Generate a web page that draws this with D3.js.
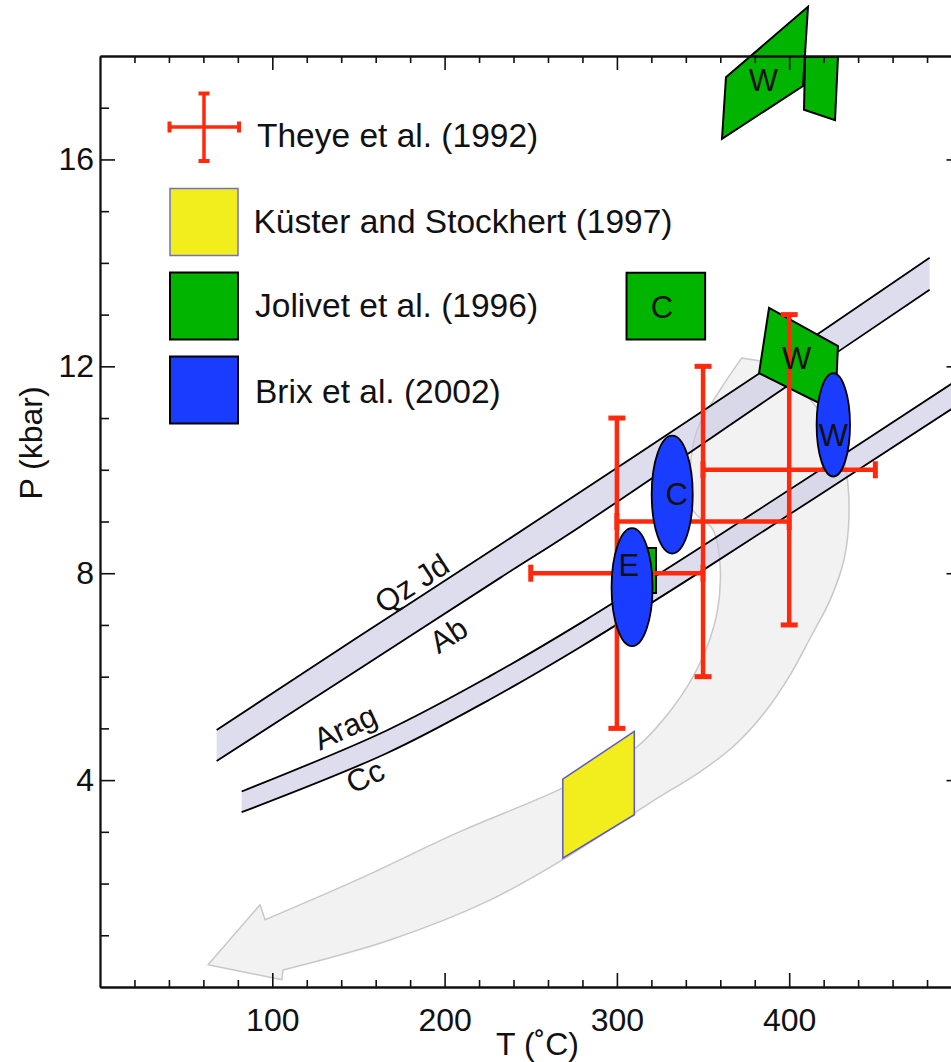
<!DOCTYPE html>
<html><head><meta charset="utf-8">
<script src="https://cdn.jsdelivr.net/npm/d3@7"></script>
<style>
body{margin:0;background:#fff}
svg{display:block}
text{font-family:"Liberation Sans",Arial,Helvetica,sans-serif;fill:#111}
</style>
</head><body>
<svg id="c" width="951" height="1062"></svg>
<script>
// ---------------- data ----------------
const tickT = [100, 200, 300, 400];
const tickP = [4, 8, 12, 16];

// Theye et al. (1992) error crosses
const theyeT = [300, 350, 400];
const theyeP = [8, 9, 10];
const theyeErrT = [50, 50, 50];
const theyeErrP = [3, 3, 3];

// Brix et al. (2002) ellipses
const brixName = ["E", "C", "W"];
const brixT = [308.8, 332.1, 425.6];
const brixP = [7.73, 9.52, 10.87];
const brixRadT = [11.9, 11.9, 9.7];
const brixRadP = [1.14, 1.14, 1.0];
const brixLabelT = [307, 334.7, 425.6];
const brixLabelP = [8.16, 9.54, 10.67];

// Jolivet et al. (1996) fields
const jolivetC = [[305.6, 13.81], [351.2, 13.81], [351.2, 12.52], [305.6, 12.52]];
const jolivetW = [[388.3, 13.13], [428.3, 12.39], [426.6, 11.14], [382.5, 11.87]];
const jolivetE = [[313.4, 8.49], [322.7, 8.49], [322.7, 7.62], [313.4, 7.62]];
const jolivetWTop = [[410.9, 18.95], [408, 17.42], [361, 16.40], [363.3, 17.59]];
const jolivetWTop2 = [[409.2, 17.98], [428.3, 17.98], [426.6, 16.76], [408.6, 16.96]];
const jolivetLabels = [["C", 326.2, 13.15], ["W", 404.3, 12.16], ["W", 385, 17.54]];

// Kuster and Stockhert (1997) field
const kuster = [[268.6, 4.02], [310.1, 4.94], [310.1, 3.33], [268.6, 2.49]];

// reaction curves
const qzjdT = [67.7, 150, 232.2, 383, 481.5];
const qzjdP = [4.97, 6.77, 8.55, 11.87, 14.10];
const abT = [67.7, 150, 232.2, 278.6, 398.5, 481.5];
const abP = [4.37, 6.14, 7.91, 8.90, 11.61, 13.48];
const aragT = [82.2, 166.4, 226.3, 278.6, 350, 500];
const aragP = [3.78, 4.96, 6.01, 7.03, 8.53, 11.79];
const ccT = [82.2, 166.4, 226.3, 278.6, 350, 500];
const ccP = [3.38, 4.52, 5.56, 6.57, 8.06, 11.30];
const curveLabels = [["Qz Jd", 180.9, 7.81, -33], ["Ab", 202.1, 6.81, -33], ["Arag", 142.2, 5.03, -25], ["Cc", 153.8, 4.08, -26]];

// P-T path arrow outline: outer edge, head, inner edge
const arrowOuterT = [387.7, 412.1, 428.3, 433.0, 434.7, 431.8, 423.7, 413.2, 400.5, 386.0, 368.5, 348.2, 319.2, 271.0, 226.3, 168.3, 106.2];
const arrowOuterP = [12.08, 11.36, 10.58, 10.0, 9.09, 8.26, 7.48, 6.81, 6.03, 5.32, 4.68, 4.16, 3.56, 2.51, 1.68, 0.91, 0.33];
const arrowHeadT = [105.6, 62.7, 92.9];
const arrowHeadP = [0.14, 0.43, 1.59];
const arrowInnerT = [95.8, 149.2, 207.2, 268.7, 309.3, 332.6, 348.2, 358.1, 359.8, 355.8, 344.2, 342.5, 346.6, 359.8, 372.4];
const arrowInnerP = [1.30, 2.07, 2.98, 3.85, 4.58, 5.41, 6.26, 7.23, 8.20, 8.84, 9.22, 10.0, 10.77, 11.54, 12.16];

// legend
const legendNames = ["Theye et al. (1992)", "Küster and Stockhert (1997)", "Jolivet et al. (1996)", "Brix et al. (2002)"];

// ---------------- styles ----------------
const RED = "#ff2a0d", GREEN = "#00b400", BLUE = "#1a3cff", YELLOW = "#f2ee1e";
const BANDFILL = "rgb(198,198,227)";

// ---------------- scales ----------------
const svg = d3.select("#c");
const x = d3.scaleLinear().domain([0, 500]).range([100, 961.5]);
const y = d3.scaleLinear().domain([0, 18]).range([987, 56]);
const toPx = pts => pts.map(d => [x(d[0]), y(d[1])]);
const zip = (a, b) => a.map((v, i) => [v, b[i]]);
const lin = d3.line();
const curv = d3.line().curve(d3.curveCatmullRom);

// arrow
{
  const outer = curv(toPx(zip(arrowOuterT, arrowOuterP)));
  const head = toPx(zip(arrowHeadT, arrowHeadP)).map(p => "L" + p[0] + "," + p[1]).join("");
  const inner = curv(toPx(zip(arrowInnerT, arrowInnerP))).replace("M", "L");
  svg.append("path")
    .attr("d", outer + head + inner + "Z")
    .attr("fill", "#f2f2f2").attr("stroke", "#c8c8c8").attr("stroke-width", 1.5)
    .attr("stroke-linejoin", "round");
}

// bands
function band(tT, tP, bT, bP) {
  const top = toPx(zip(tT, tP));
  const bot = toPx(zip(bT, bP)).reverse();
  const d = curv(top) + curv(bot).replace("M", "L") + "Z";
  svg.append("path").attr("d", d).attr("fill", BANDFILL).attr("fill-opacity", 0.6).attr("stroke", "none");
  svg.append("path").attr("d", curv(top)).attr("fill", "none").attr("stroke", "#000").attr("stroke-width", 1.8);
  svg.append("path").attr("d", curv(bot)).attr("fill", "none").attr("stroke", "#000").attr("stroke-width", 1.8);
}
band(qzjdT, qzjdP, abT, abP);
band(aragT, aragP, ccT, ccP);

curveLabels.forEach(([t, T, P, r]) => {
  svg.append("text").attr("transform", `translate(${x(T)},${y(P)}) rotate(${r})`)
    .attr("text-anchor", "middle").attr("dy", "0.36em").attr("font-size", 31).text(t);
});

// Kuster field
svg.append("path").attr("d", lin(toPx(kuster)) + "Z")
  .attr("fill", YELLOW).attr("stroke", "#5a5ac0").attr("stroke-width", 1.5);

// Jolivet fields
[jolivetC, jolivetW, jolivetE, jolivetWTop, jolivetWTop2].forEach(p => {
  svg.append("path").attr("d", lin(toPx(p)) + "Z")
    .attr("fill", GREEN).attr("stroke", "#000").attr("stroke-width", 2).attr("stroke-linejoin", "miter");
});

// Theye crosses
const capL = 17, capW = 5;
theyeT.forEach((T, i) => {
  const P = theyeP[i], dT = theyeErrT[i], dP = theyeErrP[i];
  const g = svg.append("g").attr("stroke", RED).attr("stroke-width", 4.5);
  g.append("line").attr("x1", x(T - dT)).attr("x2", x(T + dT)).attr("y1", y(P)).attr("y2", y(P));
  g.append("line").attr("x1", x(T)).attr("x2", x(T)).attr("y1", y(P - dP)).attr("y2", y(P + dP));
  const gc = svg.append("g").attr("fill", RED);
  [T - dT, T + dT].forEach(t => gc.append("rect").attr("x", x(t) - capW / 2).attr("y", y(P) - capL / 2).attr("width", capW).attr("height", capL));
  [P - dP, P + dP].forEach(p => gc.append("rect").attr("x", x(T) - capL / 2).attr("y", y(p) - capW / 2).attr("width", capL).attr("height", capW));
});

// Brix ellipses
brixT.forEach((T, i) => {
  svg.append("ellipse").attr("cx", x(T)).attr("cy", y(brixP[i]))
    .attr("rx", x(T + brixRadT[i]) - x(T)).attr("ry", y(brixP[i] - brixRadP[i]) - y(brixP[i]))
    .attr("fill", BLUE).attr("stroke", "#000").attr("stroke-width", 1.8);
  svg.append("text").attr("x", x(brixLabelT[i])).attr("y", y(brixLabelP[i])).attr("dy", "0.36em")
    .attr("text-anchor", "middle").attr("font-size", 31).text(brixName[i]);
});

jolivetLabels.forEach(([t, T, P]) => {
  svg.append("text").attr("x", x(T)).attr("y", y(P)).attr("dy", "0.36em")
    .attr("text-anchor", "middle").attr("font-size", 31).text(t);
});

// ---------------- axes ----------------
const minorT = d3.range(20, 500, 20).filter(v => v % 100 !== 0);
const minorP = d3.range(1, 18, 1).filter(v => v % 4 !== 0);
const majorTall = [100, 200, 300, 400];
function styleAxis(g) {
  g.selectAll("path.domain").attr("stroke", "#111").attr("stroke-width", 1.8);
  g.selectAll(".tick line").attr("stroke", "#111").attr("stroke-width", 1.6);
  g.selectAll(".tick text").attr("font-family", '"Liberation Sans",Arial,sans-serif').attr("fill", "#111");
}
// bottom
const gb = svg.append("g").attr("transform", "translate(0,987)")
  .call(d3.axisBottom(x).tickValues(tickT).tickSizeInner(-14).tickSizeOuter(0).tickPadding(21).tickFormat(d3.format("d")));
gb.selectAll(".tick text").attr("font-size", 32);
styleAxis(gb);
const gbm = svg.append("g").attr("transform", "translate(0,987)")
  .call(d3.axisBottom(x).tickValues(minorT).tickSizeInner(-7).tickSizeOuter(0).tickFormat(""));
styleAxis(gbm);
// top
const gt = svg.append("g").attr("transform", "translate(0,56)")
  .call(d3.axisTop(x).tickValues(majorTall).tickSizeInner(-14).tickSizeOuter(0).tickFormat(""));
styleAxis(gt);
const gtm = svg.append("g").attr("transform", "translate(0,56)")
  .call(d3.axisTop(x).tickValues(minorT).tickSizeInner(-7).tickSizeOuter(0).tickFormat(""));
styleAxis(gtm);
// left
const gl = svg.append("g").attr("transform", "translate(100,0)")
  .call(d3.axisLeft(y).tickValues(tickP).tickSizeInner(-15).tickSizeOuter(0).tickPadding(6).tickFormat(d3.format("d")));
gl.selectAll(".tick text").attr("font-size", 32);
styleAxis(gl);
const glm = svg.append("g").attr("transform", "translate(100,0)")
  .call(d3.axisLeft(y).tickValues(minorP).tickSizeInner(-9).tickSizeOuter(0).tickFormat(""));
styleAxis(glm);
// right
const gr = svg.append("g").attr("transform", "translate(961.5,0)")
  .call(d3.axisRight(y).tickValues(tickP).tickSizeInner(-15).tickSizeOuter(0).tickFormat(""));
styleAxis(gr);
const grm = svg.append("g").attr("transform", "translate(961.5,0)")
  .call(d3.axisRight(y).tickValues(minorP).tickSizeInner(-9).tickSizeOuter(0).tickFormat(""));
styleAxis(grm);

// axis titles
svg.append("text").attr("x", 537.5).attr("y", 1055).attr("text-anchor", "middle").attr("font-size", 32).text("T (˚C)");
svg.append("text").attr("transform", "translate(42,443) rotate(-90)").attr("text-anchor", "middle").attr("font-size", 32).text("P (kbar)");

// ---------------- legend ----------------
const lg = svg.append("g");
const cx0 = 204, cy0 = 127;
const lc = lg.append("g").attr("stroke", RED).attr("stroke-width", 3.5);
lc.append("line").attr("x1", 169.5).attr("x2", 239).attr("y1", cy0).attr("y2", cy0);
lc.append("line").attr("x1", cx0).attr("x2", cx0).attr("y1", 93.5).attr("y2", 161);
const lcap = lg.append("g").attr("fill", RED);
[169.5, 239].forEach(v => lcap.append("rect").attr("x", v - 2).attr("y", cy0 - 5.5).attr("width", 4).attr("height", 11));
[93.5, 161].forEach(v => lcap.append("rect").attr("x", cx0 - 5.5).attr("y", v - 2).attr("width", 11).attr("height", 4));

const boxFill = [YELLOW, GREEN, BLUE];
const boxStroke = ["#7070c8", "#000", "#000"];
const boxY = [188.5, 272.5, 356.5];
boxY.forEach((by, i) => {
  lg.append("rect").attr("x", 170).attr("y", by).attr("width", 68).attr("height", 67)
    .attr("fill", boxFill[i]).attr("stroke", boxStroke[i]).attr("stroke-width", i === 0 ? 1.5 : 2);
});
const textX = [257, 253.5, 255, 255];
const textY = [146.7, 233.3, 316.7, 402.7];
legendNames.forEach((n, i) => {
  lg.append("text").attr("x", textX[i]).attr("y", textY[i]).attr("font-size", 33.5).text(n);
});
</script>
</body></html>
